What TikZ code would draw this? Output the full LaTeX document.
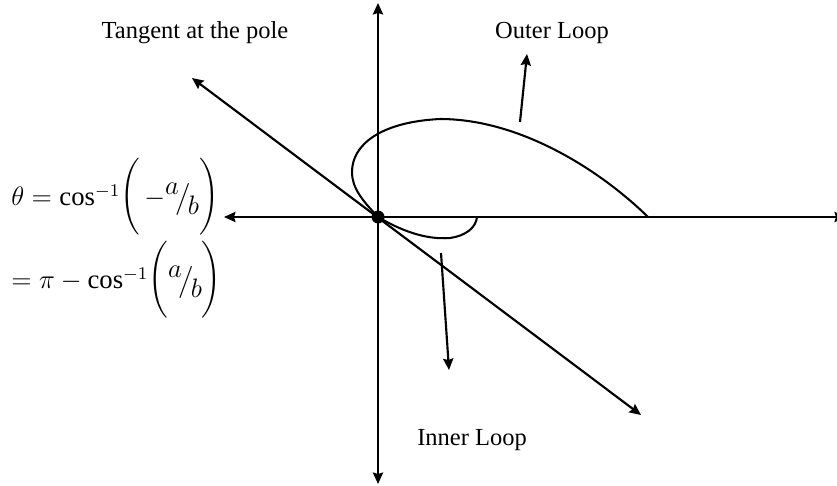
\documentclass[tikz,border=0pt]{standalone}
\usepackage{amsmath}
\usepackage{graphicx}
\usepackage{fontspec}
\setmainfont{Liberation Serif}
\usetikzlibrary{arrows.meta}
\newcommand{\myfrac}[2]{\raisebox{0.42em}{$#1$}\kern-0.12em\big/\kern-0.12em\raisebox{-0.32em}{$#2$}}
\newcommand{\myopen}{\mathopen{\raisebox{1.2pt}{$\vcenter{\hbox{\scalebox{1}[1.2]{$\bigg($}}}$}}}
\newcommand{\myclose}{\mathclose{\raisebox{1.2pt}{$\vcenter{\hbox{\scalebox{1}[1.2]{$\bigg)$}}}$}}}
\begin{document}
\begin{tikzpicture}[x=0.49pt,y=-0.49pt,
  tip/.style={line width=1.05pt, -{Stealth[length=5.6pt,width=5pt,inset=0.7pt]}},
  twotip/.style={line width=1.05pt, {Stealth[length=5.6pt,width=5pt,inset=0.7pt]}-{Stealth[length=5.6pt,width=5pt,inset=0.7pt]}},
  curve/.style={line width=1pt},
  lbl/.style={inner sep=0pt, font=\fontsize{12}{14.4}\selectfont}]
\useasboundingbox (0,0) rectangle (837,486);
\clip (0,0) rectangle (837,486);
% pole and axis ends
\coordinate (P) at (378,217);
\coordinate (T) at (378,3);
\coordinate (B) at (378,484);
\coordinate (L) at (224,217);
\coordinate (R) at (846,217);
\coordinate (TL) at (192,78);
\coordinate (BR) at (641,415);
% axes and tangent
\draw[twotip] (L) -- (R);
\draw[twotip] (B) -- (T);
\draw[twotip] (TL) -- (BR);
% outer loop
\draw[curve] (P) .. controls (362,200) and (352,188) .. (352,172)
  .. controls (352,145) and (380,122) .. (440,119)
  .. controls (520,119) and (600,170) .. (648,217);
% inner loop
\draw[curve] (P) .. controls (400,230) and (425,240) .. (450,238)
  .. controls (465,236) and (476,228) .. (477,217);
\fill (P) circle (6.5);
% labels
\node[lbl, anchor=base] (tan) at (195,39) {Tangent at the pole};
\node[lbl, anchor=base] (out) at (552,39) {Outer Loop};
\node[lbl, anchor=base] (inn) at (472,445) {Inner Loop};
% pointer arrows
\coordinate (oa) at (520,122);
\coordinate (ob) at (527,54);
\draw[tip] (oa) -- (ob);
\coordinate (ia) at (441,253);
\coordinate (ib) at (449,370);
\draw[tip] (ia) -- (ib);
% formulas
\node[lbl, anchor=base west] (f1) at (11,206) {\scalebox{1.09}{$\theta = \cos^{-1}\myopen\,-\myfrac{a}{b}\myclose$}};
\node[lbl, anchor=base west] (f2) at (11,289) {\scalebox{1.09}{$= \pi - \cos^{-1}\myopen\myfrac{a}{b}\myclose$}};
\end{tikzpicture}
\end{document}
